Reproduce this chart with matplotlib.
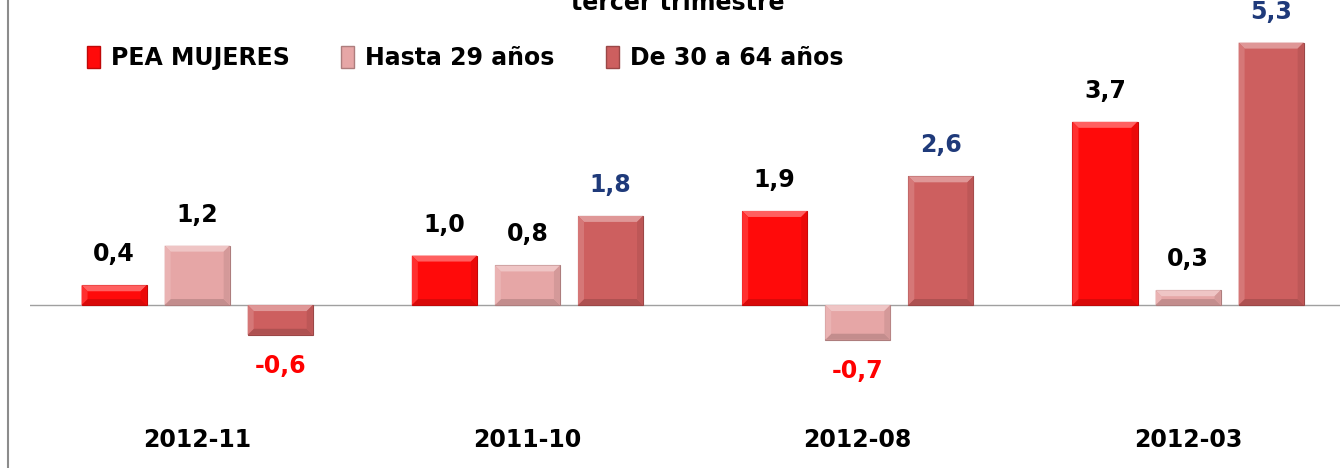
import matplotlib
matplotlib.use("Agg")
import matplotlib.pyplot as plt
from matplotlib.patches import Polygon, Patch
import numpy as np

plt.rcParams['font.family'] = ['DejaVu Sans']

categories = ["2012-11", "2011-10", "2012-08", "2012-03"]
series_names = ["PEA MUJERES", "Hasta 29 años", "De 30 a 64 años"]
pea_mujeres = [0.4, 1.0, 1.9, 3.7]
hasta_29 = [1.2, 0.8, -0.7, 0.3]
de_30_64 = [-0.6, 1.8, 2.6, 5.3]

colors = ["#FF0A0A", "#E6A6A6", "#CD5F5F"]
pos_label_colors = ["black", "black", "#1F3A7A"]

fig = plt.figure(figsize=(13.4, 4.68), dpi=100)
ax = fig.add_axes([0.0224, 0, 0.9776, 1])
ax.set_xlim(-0.506, 3.46)
ax.set_ylim(-3.29, 6.16)
ax.axis("off")

# grey border on the left edge
fig.add_artist(plt.Line2D([0.006, 0.006], [0, 1], color="#8C8C8C", lw=1.5))

ax.axhline(0, color="#A0A0A0", lw=1, zorder=1)

x = np.arange(len(categories))
offsets = [-0.2515, 0, 0.2515]
width = 0.197
px_x = 1 / 330.0   # data units per pixel
px_y = 1 / 49.5
bev = 6

def lighten(c, f):
    rgb = np.array(matplotlib.colors.to_rgb(c))
    return tuple(rgb + (1 - rgb) * f)

def darken(c, f):
    rgb = np.array(matplotlib.colors.to_rgb(c))
    return tuple(rgb * (1 - f))

for values, off, col, pcol in zip([pea_mujeres, hasta_29, de_30_64], offsets, colors, pos_label_colors):
    bars = ax.bar(x + off, values, width, color=col, edgecolor=darken(col, 0.25), lw=0.8, zorder=2)
    for b, v in zip(bars, values):
        x0, w = b.get_x(), b.get_width()
        y0, y1 = sorted([0, v])
        dx, dy = bev * px_x, min(bev * px_y, (y1 - y0) / 2)
        # bevel: light top, dark bottom
        ax.add_patch(Polygon([[x0, y1], [x0 + w, y1], [x0 + w - dx, y1 - dy], [x0 + dx, y1 - dy]],
                             closed=True, color=lighten(col, 0.35), lw=0, zorder=3))
        ax.add_patch(Polygon([[x0, y0], [x0 + w, y0], [x0 + w - dx, y0 + dy], [x0 + dx, y0 + dy]],
                             closed=True, color=darken(col, 0.15), lw=0, zorder=3))
        ax.add_patch(Polygon([[x0, y0], [x0 + dx, y0 + dy], [x0 + dx, y1 - dy], [x0, y1]],
                             closed=True, color=lighten(col, 0.15), lw=0, zorder=3))
        ax.add_patch(Polygon([[x0 + w, y0], [x0 + w - dx, y0 + dy], [x0 + w - dx, y1 - dy], [x0 + w, y1]],
                             closed=True, color=darken(col, 0.08), lw=0, zorder=3))
        lbl = f"{v:.1f}".replace(".", ",")
        if v >= 0:
            ax.text(b.get_x() + w / 2, v + 31 * px_y, lbl, ha="center", va="center",
                    fontsize=17, fontweight="bold", color=pcol)
        else:
            ax.text(b.get_x() + w / 2, v - 31 * px_y, lbl, ha="center", va="center",
                    fontsize=17, fontweight="bold", color="#FF0000")

for xi, cat in zip(x, categories):
    ax.text(xi, -2.73, cat, ha="center", va="center", fontsize=17, fontweight="bold")

fig.text(0.506, 0.993, "tercer trimestre", ha="center", va="center", fontsize=17, fontweight="bold")

handles = [Patch(facecolor=c, edgecolor=darken(c, 0.25)) for c in colors]
fig.legend(handles, series_names, ncol=3, loc="center left", bbox_to_anchor=(0.049, 0.876),
           frameon=False, handlelength=0.55, handleheight=1.0, handletextpad=0.45,
           columnspacing=2.2, prop={"size": 17, "weight": "bold"})

fig.savefig("out.png", dpi=100)
